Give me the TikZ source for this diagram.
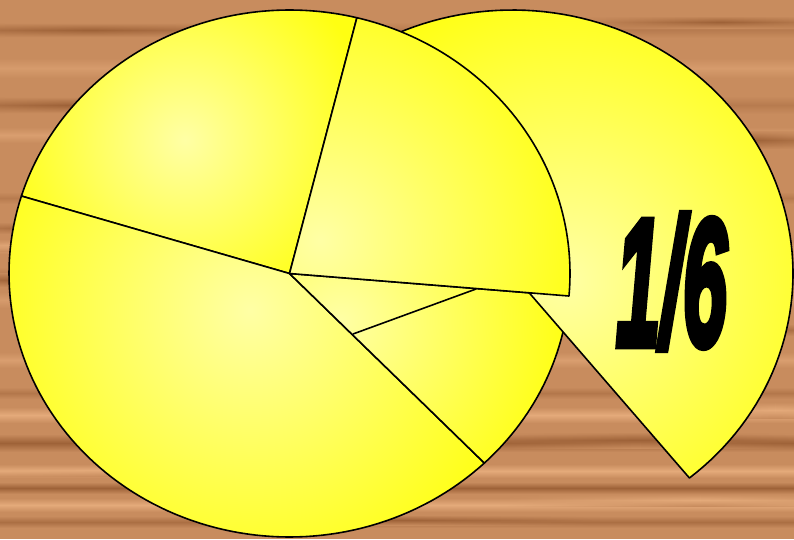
\documentclass[tikz,border=0pt]{standalone}
\usepackage{graphicx}
\usepackage{fontspec}
\usetikzlibrary{fadings}
\newfontfamily\heavyfont[FakeBold=4.5]{Liberation Sans}
\definecolor{woodbase}{RGB}{200,140,94}
\definecolor{wooddark}{RGB}{158,98,56}
\definecolor{woodlight}{RGB}{228,170,122}
\definecolor{pieyellow}{RGB}{255,255,18}
\definecolor{pielight}{RGB}{255,255,165}
\tikzfading[name=fadesides, left color=transparent!100, right color=transparent!100, middle color=transparent!0]
\def\rx{280.5}
\def\ry{263.5}
\newcommand{\sectorpath}[4]{(#1,#2) -- plot[domain=#3:#4,samples=90] ({#1+\rx*cos(\x)},{#2+\ry*sin(\x)}) -- cycle}
\newcommand{\pieslice}[7]{%
  \fill[pieyellow] \sectorpath{#1}{#2}{#3}{#4};
  \begin{scope}
    \clip \sectorpath{#1}{#2}{#3}{#4};
    \shade[inner color=pielight,outer color=pieyellow] (#5,#6) circle (#7);
  \end{scope}
  \draw[outline] \sectorpath{#1}{#2}{#3}{#4};}
\begin{document}
\begin{tikzpicture}[x=1pt,y=-1pt,
  outline/.style={draw=black,line width=1.6pt,line join=round}]
\path[use as bounding box] (0,0) rectangle (794,539);
% wood background
\fill[woodbase] (0,0) rectangle (794,539);
\foreach \yy/\hh/\cc in {30/8/woodbase!60!wooddark, 68/10/woodlight!50!woodbase,
  105/9/woodbase!60!wooddark, 135/8/woodlight!60!woodbase,
  198/6/woodbase!60!wooddark, 248/6/woodlight!60!woodbase, 275/8/woodbase!60!wooddark,
  300/8/woodlight!50!woodbase, 360/8/woodlight!60!woodbase, 393/6/woodbase!50!wooddark,
  415/8/woodlight, 443/9/wooddark, 471/7/woodlight, 488/6/wooddark, 505/7/woodlight,
  522/6/wooddark!70!woodbase} {
  \shade[top color=woodbase,bottom color=woodbase,middle color=\cc]
    (0,{\yy-\hh}) rectangle (794,{\yy+\hh});
}
\foreach \xa/\xb/\yy/\hh/\cc in {-80/260/30/7/wooddark, 560/880/22/6/wooddark,
  -60/200/105/8/wooddark, 600/900/140/9/wooddark, -60/150/228/6/wooddark,
  -60/120/245/6/woodlight, -80/120/280/7/wooddark, 560/900/330/6/wooddark,
  650/900/410/8/woodlight, 480/800/440/8/wooddark, -60/300/470/6/woodlight,
  500/900/500/6/woodlight, 200/600/520/5/wooddark} {
  \shade[top color=woodbase,bottom color=woodbase,middle color=\cc,path fading=fadesides]
    (\xa,{\yy-\hh}) rectangle (\xb,{\yy+\hh});
}
% named points
\coordinate (P) at (289.5,273.5);
\coordinate (Q) at (512.5,273.5);
\coordinate (F) at (353,334);
\coordinate (E) at (476,289);
% top-left slice
\pieslice{289.5}{273.5}{-162.9}{-76.1}{185}{140}{190}
% bottom slice
\pieslice{289.5}{273.5}{46}{197.1}{250}{310}{290}
% lower-right slice
\pieslice{289.5}{273.5}{4.9}{46}{340}{320}{230}
\draw[outline] (F) -- (E);
% the 1/6 piece
\pieslice{512.5}{273.5}{-120}{50.9}{565}{280}{300}
% top-right slice
\pieslice{289.5}{273.5}{-76.1}{4.9}{320}{240}{270}
% label
\node[inner sep=0pt] (frac) at (671.5,281.5)
  {\resizebox{111pt}{131pt}{\heavyfont\bfseries\itshape 1/6}};
\end{tikzpicture}
\end{document}
